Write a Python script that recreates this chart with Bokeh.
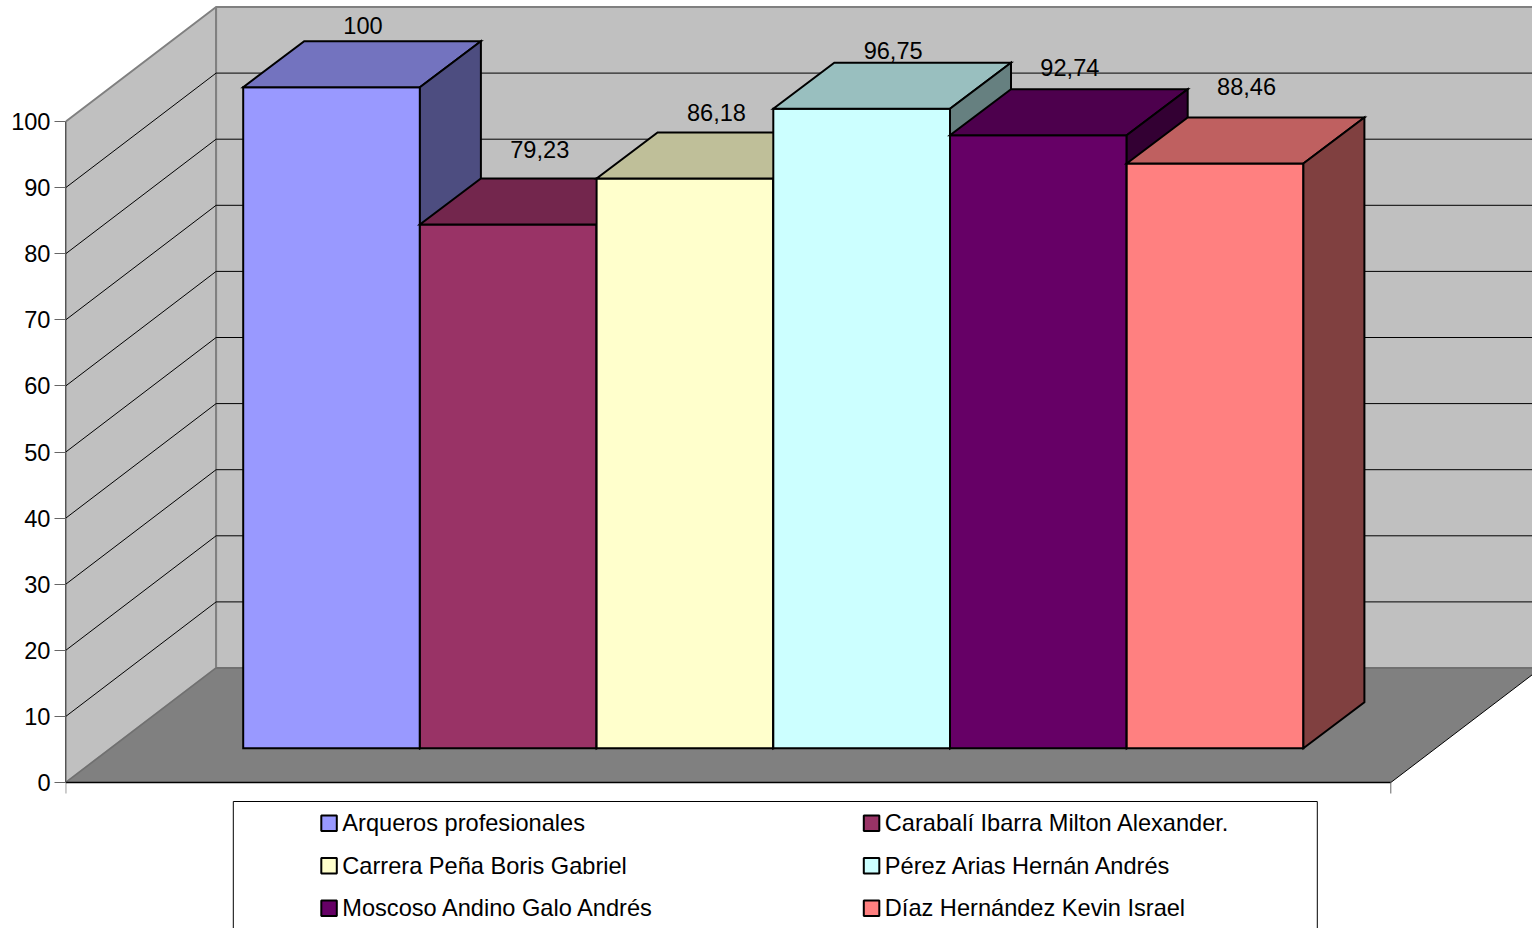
from bokeh.embed import file_html
from bokeh.models import ColumnDataSource, FixedTicker, LinearAxis, Range1d
from bokeh.plotting import figure
from bokeh.resources import INLINE
from bokeh.core.properties import value

# Series shown in the chart
names = [
    "Arqueros profesionales",
    "Carabalí Ibarra Milton Alexander.",
    "Carrera Peña Boris Gabriel",
    "Pérez Arias Hernán Andrés",
    "Moscoso Andino Galo Andrés",
    "Díaz Hernández Kevin Israel",
]
scores = [100, 79.23, 86.18, 96.75, 92.74, 88.46]
front_colors = ["#9999FF", "#993366", "#FFFFCC", "#CCFFFF", "#660066", "#FF8080"]
top_colors = ["#7373BF", "#73264D", "#BFBF99", "#99BFBF", "#4D004D", "#BF6060"]
side_colors = ["#4D4D80", "#4D1A33", "#808066", "#668080", "#330033", "#804040"]
axis_ticks = list(range(0, 101, 10))

# Layout of the oblique box, in screen pixels
WIDTH, HEIGHT = 1532, 928
ZERO_PX = 782.0
PX_PER_UNIT = 6.61
AXIS_X = 66.0
FRONT_RIGHT = 1391.0
WALL_DX, WALL_DY = 150.3, 114.5
BAR_LEFT, BAR_WIDTH = 243.4, 176.7
BAR_BASE_PX = 747.7
BAR_DX, BAR_DY = 61.0, 46.0
LABEL_LIFTS = [8, 21, 12, 4.3, 13.7, 22.7]
TEXT_SHIFT = -8
X_SHIFT = 0.7
FONT = value("Liberation Sans")
FONT_SIZE = "23.6px"


def units(pixels):
    """Length in screen pixels expressed in chart value units."""
    return pixels / PX_PER_UNIT


def level(py):
    """Screen row converted to the value axis."""
    return (ZERO_PX - py) / PX_PER_UNIT


p = figure(
    width=WIDTH, height=HEIGHT,
    x_range=Range1d(AXIS_X - 1 + X_SHIFT, WIDTH + X_SHIFT), y_range=Range1d(level(HEIGHT), level(0)),
    x_axis_type=None, y_axis_type=None,
    output_backend="svg", toolbar_location=None,
    min_border_left=int(AXIS_X) - 1, min_border_right=0, min_border_top=0, min_border_bottom=0,
)
p.outline_line_color = None
p.grid.visible = False

y_axis = LinearAxis(
    ticker=FixedTicker(ticks=axis_ticks), bounds=(0, 100),
    axis_line_color="#555555", axis_line_width=1,
    major_tick_line_color="#666666", major_tick_in=0, major_tick_out=11,
    minor_tick_line_color=None, major_label_standoff=4,
    major_label_text_font="Liberation Sans", major_label_text_font_size=FONT_SIZE,
    major_label_text_color="#000000", major_label_text_line_height=1.1,
)
p.add_layout(y_axis, "left")

wall_h = units(WALL_DY)
max_tick = axis_ticks[-1]
back_x = AXIS_X + WALL_DX
back_right = FRONT_RIGHT + WALL_DX

# Left wall, back wall and floor
p.patch([AXIS_X, back_x, back_x, AXIS_X], [0, wall_h, wall_h + max_tick, max_tick],
        fill_color="#C0C0C0", line_color="#808080", line_width=2)
p.patch([back_x, back_right, back_right, back_x], [wall_h, wall_h, wall_h + max_tick, wall_h + max_tick],
        fill_color="#C0C0C0", line_color="#808080", line_width=2)

inner_ticks = axis_ticks[1:-1]
p.multi_line([[AXIS_X, back_x] for _ in inner_ticks], [[t, t + wall_h] for t in inner_ticks],
             line_color="#000000", line_width=1)
p.multi_line([[back_x, back_right] for _ in inner_ticks], [[t + wall_h] * 2 for t in inner_ticks],
             line_color="#000000", line_width=1)

p.patch([AXIS_X, FRONT_RIGHT, back_right, back_x], [0, 0, wall_h, wall_h],
        fill_color="#808080", line_color=None)
p.line([back_x, back_right], [wall_h, wall_h], line_color="#707070", line_width=2)
p.line([AXIS_X, back_x], [0, wall_h], line_color="#707070", line_width=1.5)
p.line([FRONT_RIGHT, back_right], [0, wall_h], line_color="#000000", line_width=1)
p.line([AXIS_X, FRONT_RIGHT], [0, 0], line_color="#000000", line_width=1.5)
p.segment([AXIS_X, FRONT_RIGHT], [0, 0], [AXIS_X, FRONT_RIGHT], [units(-11), units(-11)],
          line_color="#666666", line_width=1)

# Bars are painted left to right so each one covers its neighbour's side face
base = level(BAR_BASE_PX)
depth_y = units(BAR_DY)
edge = dict(line_color="#000000", line_width=2, line_join="miter")
for i, score in enumerate(scores):
    x0 = BAR_LEFT + i * BAR_WIDTH
    x1 = x0 + BAR_WIDTH
    top = base + score
    p.quad(left=[x0], right=[x1], bottom=[base], top=[top], fill_color=front_colors[i], **edge)
    p.patch([x0, x1, x1 + BAR_DX, x0 + BAR_DX], [top, top, top + depth_y, top + depth_y],
            fill_color=top_colors[i], **edge)
    p.patch([x1, x1 + BAR_DX, x1 + BAR_DX, x1], [base, base + depth_y, top + depth_y, top],
            fill_color=side_colors[i], **edge)

# Value labels above the back edge of each bar
labels = ColumnDataSource(dict(
    x=[BAR_LEFT + (i + 0.5) * BAR_WIDTH + BAR_DX / 2 + 1 for i in range(len(scores))],
    y=[base + s + depth_y + units(lift) for s, lift in zip(scores, LABEL_LIFTS)],
    text=[f"{s:g}".replace(".", ",") for s in scores],
))
p.text("x", "y", text="text", source=labels, text_align="center", text_baseline="alphabetic",
       y_offset=TEXT_SHIFT, text_font=FONT, text_font_size=FONT_SIZE, text_color="#000000")

# Legend panel, running past the bottom of the page
p.quad(left=[233.5], right=[1317.5], top=[level(801)], bottom=[level(HEIGHT + 20)],
       fill_color="#FFFFFF", line_color="#000000", line_width=1)
legend_cols = [321.5, 864.0]
legend_rows = [830.5, 873.0, 915.5]
swatch_size = 15.5
swatch_x, swatch_y, text_x, text_y = [], [], [], []
for i in range(len(names)):
    col, row = i % 2, i // 2
    swatch_x.append(legend_cols[col])
    swatch_y.append(legend_rows[row])
    text_x.append(legend_cols[col] + 21)
    text_y.append(level(legend_rows[row]))
p.quad(left=swatch_x, right=[x + swatch_size for x in swatch_x],
       top=[level(y - swatch_size) for y in swatch_y], bottom=[level(y) for y in swatch_y],
       fill_color=front_colors, line_color="#000000", line_width=2)
p.text(text_x, text_y, text=names, text_baseline="alphabetic",
       y_offset=TEXT_SHIFT, text_font=FONT, text_font_size=FONT_SIZE, text_color="#000000")

open("out.html", "w").write(file_html(p, INLINE))
